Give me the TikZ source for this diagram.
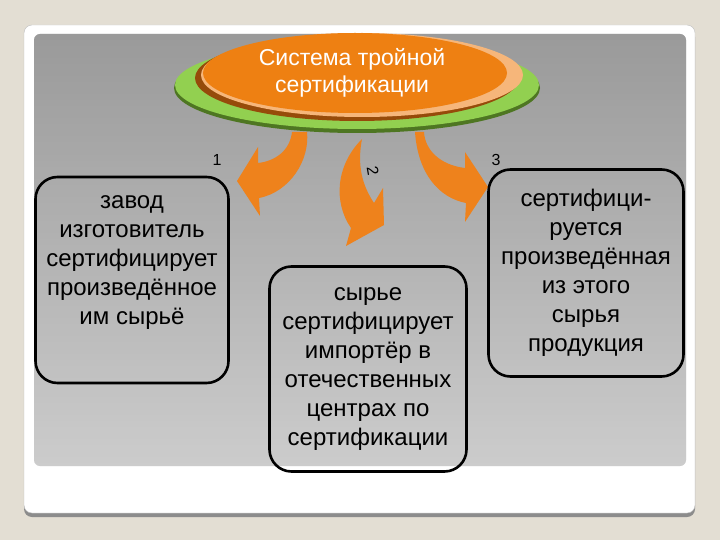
\documentclass[tikz,border=0pt]{standalone}
\usepackage{fontspec}
\setmainfont{Liberation Sans}

\definecolor{pagebg}{RGB}{227,222,211}
\definecolor{arrorange}{RGB}{238,130,28}
\definecolor{titleorange}{RGB}{238,128,18}
\definecolor{titlerim}{RGB}{150,75,10}
\definecolor{titlepeach}{RGB}{246,182,122}
\definecolor{discgreen}{RGB}{146,208,80}
\definecolor{discrim}{RGB}{78,118,34}

\begin{document}
\begin{tikzpicture}[x=1pt, y=-1pt,
  box/.style={draw=black, line width=2.6pt, rounded corners=22pt},
  boxtext/.style={align=center, font=\fontsize{24}{29}\selectfont},
  num/.style={font=\fontsize{16}{18}\selectfont},
  bendarrow/.style={fill=arrorange},
]

% Slide background
\useasboundingbox (0,0) rectangle (720,540);
\fill[pagebg] (0,0) rectangle (720,540);

% White card with shadow
\fill[black!45, rounded corners=8pt] (24,29) rectangle (695,517);
\fill[white, draw=black!25, rounded corners=8pt] (24,25) rectangle (695,513);

% Grey panel
\shade[top color=black!37, bottom color=black!9, rounded corners=6pt]
  (34,34) rectangle (686,466);
\shade[left color=black!45, middle color=white, right color=black!45,
  opacity=0.3, rounded corners=6pt] (34,34) rectangle (686,466);

% Green disc under the title
\fill[discrim] (357,88) ellipse [x radius=183pt, y radius=45pt];
\fill[discgreen] (357,85) ellipse [x radius=182pt, y radius=44pt];

% Title plate
\fill[titlerim] (357,78) ellipse [x radius=162pt, y radius=43pt];
\fill[titlepeach] (362,75) ellipse [x radius=161pt, y radius=42pt];
\fill[titleorange] (355,73) ellipse [x radius=152pt, y radius=40pt];
\node[text=white, align=center, font=\fontsize{23}{27}\selectfont] (title) at (352,73)
  {Система тройной\\сертификации};

% Curved arrows
\fill[bendarrow] (292,132) .. controls (290,150) and (276,161) .. (258,163)
  -- (258,147) -- (237,181) -- (260,216) -- (259,198)
  .. controls (290,192) and (310,160) .. (307,132) -- cycle;
\fill[bendarrow] (362,139) .. controls (336,165) and (333,202) .. (351,228)
  -- (346,246) -- (384,225) -- (383,188) -- (374,203)
  .. controls (362,185) and (357,165) .. (362,139) -- cycle;
\fill[bendarrow] (415,132) .. controls (418,175) and (440,198) .. (466,203)
  -- (465,222) -- (488,187) -- (465,152) -- (465,168)
  .. controls (440,165) and (425,150) .. (424,132) -- cycle;

% Numbers
\node[num] (n1) at (217,160) {1};
\node[num, rotate=-80] (n2) at (373,171) {2};
\node[num] (n3) at (496,160) {3};

% Boxes
\node[box, minimum width=193pt, minimum height=206pt] (b1) at (132,280) {};
\node[box, minimum width=197pt, minimum height=205pt] (b2) at (368,369) {};
\node[box, minimum width=195pt, minimum height=207pt] (b3) at (586,273) {};

\node[boxtext] (t1) at ([yshift=17pt]b1.center)
  {завод\\изготовитель\\сертифицирует\\произведённое\\им сырьё};
\node[boxtext] (t2) at (b2.center)
  {сырье\\сертифицирует\\импортёр в\\отечественных\\центрах по\\сертификации};
\node[boxtext] (t3) at (b3.center)
  {сертифици-\\руется\\произведённая\\из этого\\сырья\\продукция};

\end{tikzpicture}
\end{document}
